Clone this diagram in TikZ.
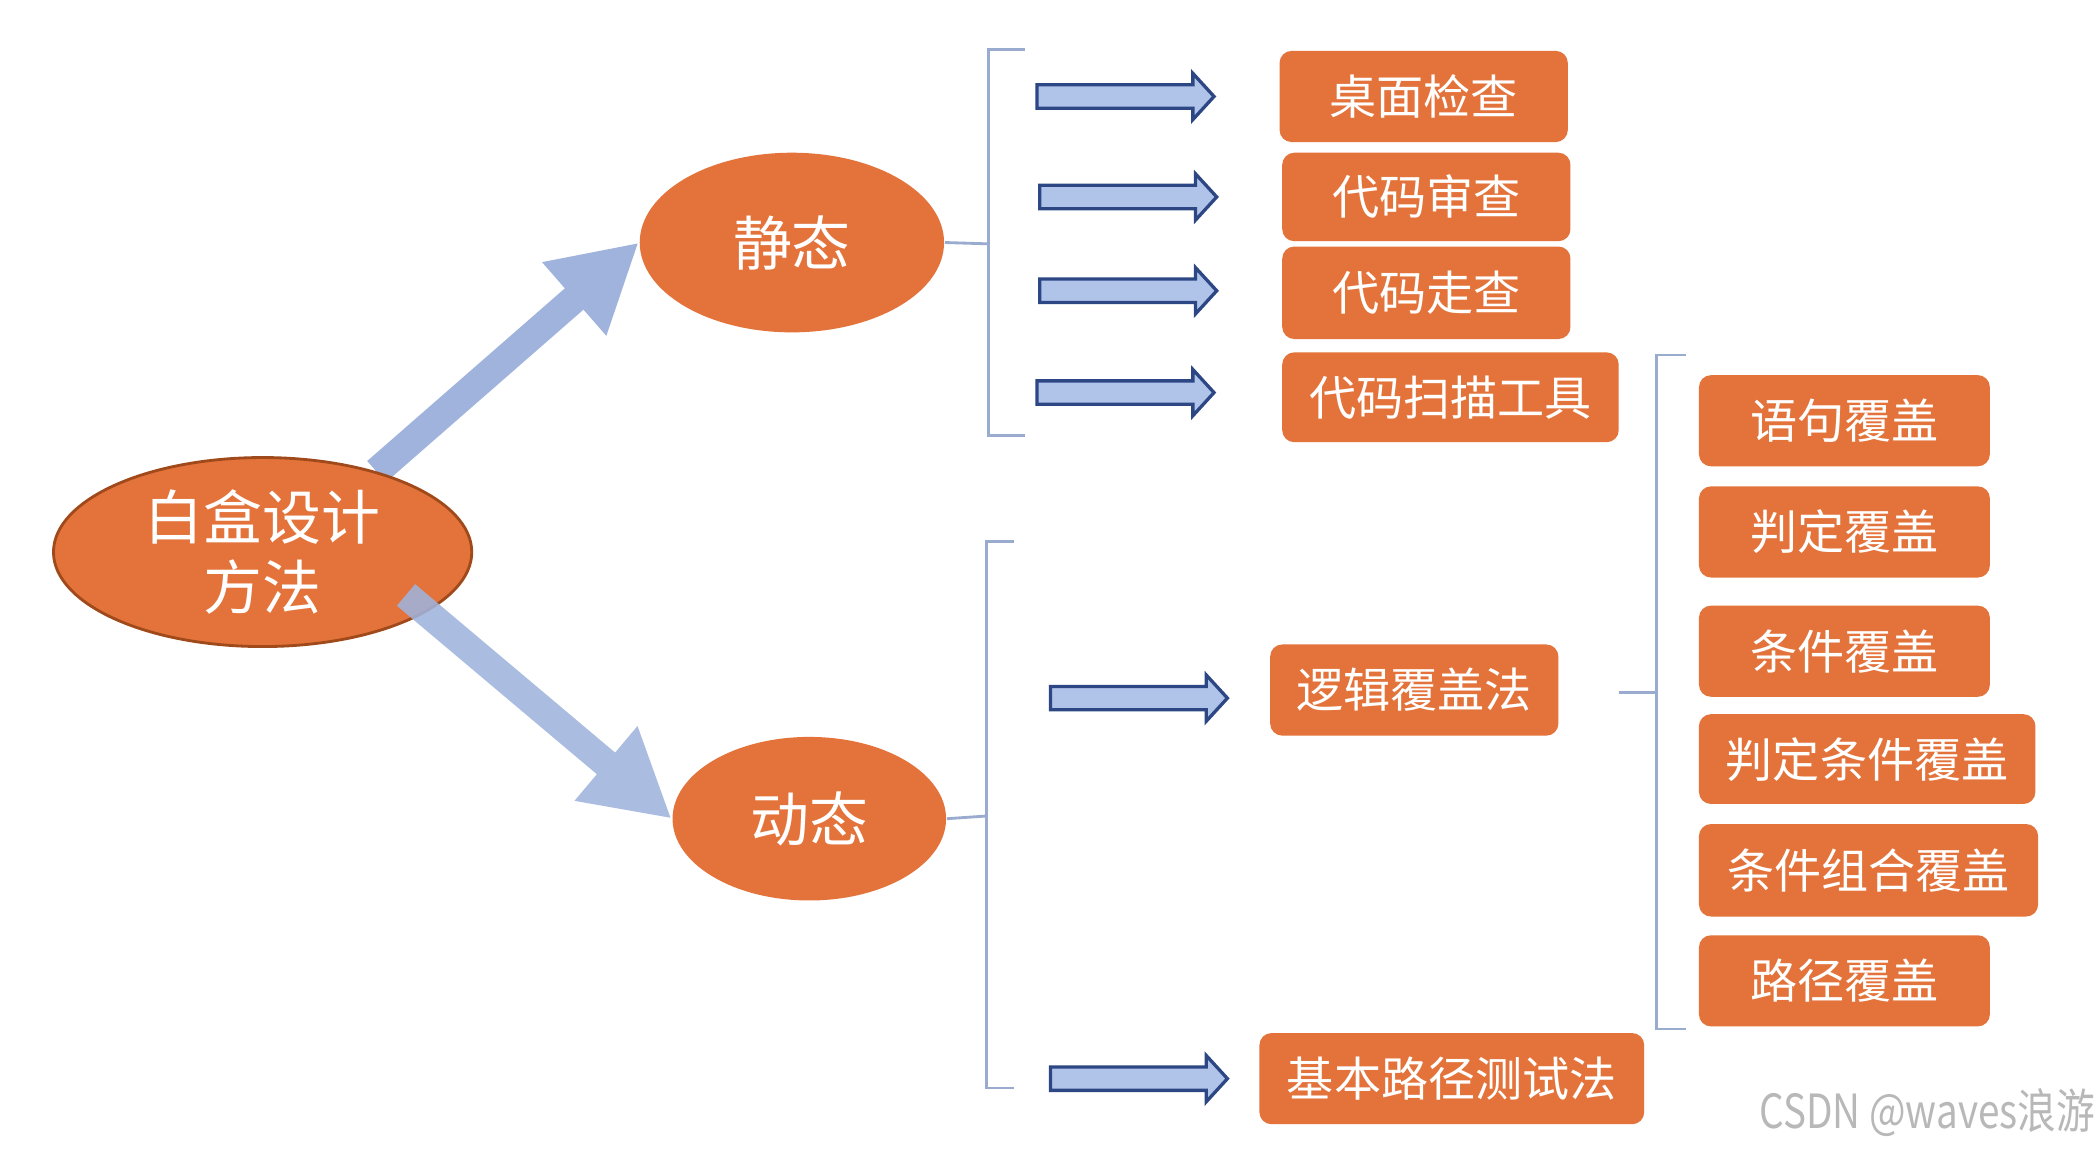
\documentclass[tikz,border=0pt]{standalone}
\usepackage{fontspec}
\setmainfont{Noto Sans CJK SC}
\usetikzlibrary{shapes.geometric,shapes.arrows,arrows.meta}
\definecolor{org}{HTML}{E3733A}
\definecolor{orgdark}{HTML}{A04A1C}
\definecolor{bigblue}{HTML}{9FB3DC}
\definecolor{arrfill}{HTML}{B0C3E9}
\definecolor{arrline}{HTML}{2C4784}
\definecolor{brk}{HTML}{9AABD0}
\tikzset{
  ovalnode/.style={ellipse, fill=org, text=white, inner sep=0pt, font=\fontsize{12.5}{15}\selectfont, align=center},
  boxnode/.style={rectangle, rounded corners=0.09cm, fill=org, text=white, inner sep=0pt, minimum height=0.68cm, font=\fontsize{10}{12}\selectfont},
  blockarrow/.style={single arrow, fill=arrfill, draw=arrline, line width=0.7pt, minimum height=1.32cm, minimum width=0pt, inner xsep=0pt, inner ysep=0.075cm, single arrow head extend=0.085cm, single arrow tip angle=95},
  bigarrow/.style={draw=bigblue, line width=6pt, -{Triangle[length=0.64cm,width=0.68cm]}},
  bracketline/.style={draw=brk, line width=0.6pt}
}
\begin{document}
\begin{tikzpicture}[x=0.01cm,y=-0.01cm]
\useasboundingbox (0,0) rectangle (1565,857.5);
\fill[white] (0,0) rectangle (1565,857.5);

% ovals
\node[ovalnode, minimum width=2.27cm, minimum height=1.34cm] (static) at (591,181) {静态};
\node[ovalnode, minimum width=2.04cm, minimum height=1.22cm] (dyn) at (604,611) {动态};

% arrow to static (beneath root)
\coordinate (s0) at (281,352);
\draw[bigarrow] (s0) -- (static.west);

\node[ovalnode, draw=orgdark, line width=0.6pt, minimum width=3.12cm, minimum height=1.41cm] (root) at (196,412) {白盒设计\\方法};

% arrow to dynamic (over root, slightly transparent)
\coordinate (d0) at (303,444);
\begin{scope}[transparency group, opacity=0.88]
\draw[bigarrow] (d0) -- (dyn.west);
\end{scope}

% static bracket
\draw[bracketline] (765,37) -- (738,37) -- (738,325) -- (765,325);
\coordinate (sb) at (738,182);
\draw[bracketline] (static.east) -- (sb);

% dynamic bracket
\draw[bracketline] (757,404) -- (736,404) -- (736,812) -- (757,812);
\coordinate (db) at (736,609);
\draw[bracketline] (dyn.east) -- (db);

% coverage bracket
\draw[bracketline] (1258,265) -- (1236,265) -- (1236,768) -- (1258,768);
\coordinate (lb0) at (1208,517);
\coordinate (lb1) at (1236,517);
\draw[bracketline] (lb0) -- (lb1);

% block arrows
\node[blockarrow] (a1) at (836,72) {};
\node[blockarrow] (a2) at (838,147) {};
\node[blockarrow] (a3) at (838,217) {};
\node[blockarrow] (a4) at (836,293) {};
\node[blockarrow] (a5) at (846,521) {};
\node[blockarrow] (a6) at (846,805) {};

% static boxes
\node[boxnode, minimum width=2.15cm] (b1) at (1062.5,72) {桌面检查};
\node[boxnode, minimum width=2.15cm, minimum height=0.66cm] (b2) at (1064.5,147) {代码审查};
\node[boxnode, minimum width=2.15cm, minimum height=0.69cm] (b3) at (1064.5,218.5) {代码走查};
\node[boxnode, minimum width=2.51cm, minimum height=0.67cm] (b4) at (1082.5,296.5) {代码扫描工具};

% dynamic boxes
\node[boxnode, minimum width=2.15cm] (logic) at (1055.5,515) {逻辑覆盖法};
\node[boxnode, minimum width=2.87cm] (basic) at (1083.5,805) {基本路径测试法};

% coverage boxes
\node[boxnode, minimum width=2.17cm] (c1) at (1376.5,314) {语句覆盖};
\node[boxnode, minimum width=2.17cm] (c2) at (1376.5,397) {判定覆盖};
\node[boxnode, minimum width=2.17cm] (c3) at (1376.5,486) {条件覆盖};
\node[boxnode, minimum width=2.51cm, minimum height=0.67cm] (c4) at (1393.5,566.5) {判定条件覆盖};
\node[boxnode, minimum width=2.53cm, minimum height=0.69cm] (c5) at (1394.5,649.5) {条件组合覆盖};
\node[boxnode, minimum width=2.17cm] (c6) at (1376.5,732) {路径覆盖};

% watermark
\node[anchor=east, text=black!28, inner sep=0pt, font=\fontsize{10}{12}\selectfont, xscale=0.82, transform shape] (wm) at (1564,830) {CSDN @waves浪游};
\end{tikzpicture}
\end{document}
